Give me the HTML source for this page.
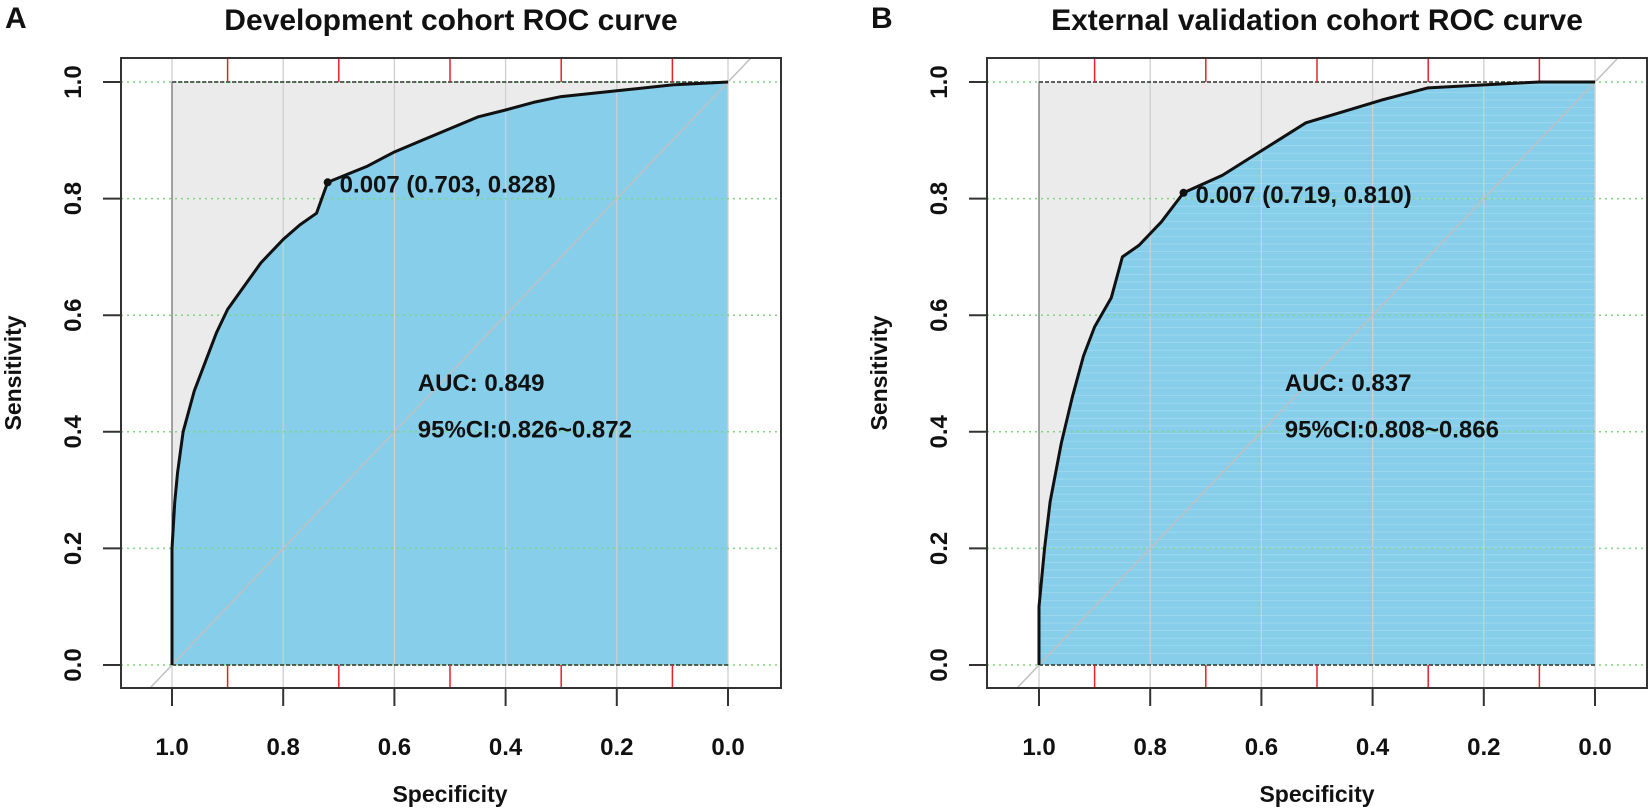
<!DOCTYPE html>
<html><head><meta charset="utf-8"><style>
body{margin:0;background:#fff}
svg{display:block;font-family:"Liberation Sans",Arial,sans-serif;font-weight:bold}
</style></head><body>
<svg id="chart" width="1650" height="809" viewBox="0 0 1650 809"></svg>
<script>
const xTicks=[1.0,0.8,0.6,0.4,0.2,0.0];
const xTickLabels=["1.0","0.8","0.6","0.4","0.2","0.0"];
const yTicks=[0.0,0.2,0.4,0.6,0.8,1.0];
const yTickLabels=["0.0","0.2","0.4","0.6","0.8","1.0"];
const redTicks=[0.9,0.7,0.5,0.3,0.1];
const specA=[1.0,1.0,0.995,0.99,0.98,0.96,0.94,0.92,0.9,0.87,0.84,0.8,0.77,0.74,0.72,0.65,0.6,0.55,0.5,0.45,0.4,0.35,0.3,0.2,0.1,0.0];
const sensA=[0.0,0.2,0.28,0.33,0.4,0.47,0.52,0.57,0.61,0.65,0.69,0.73,0.755,0.775,0.828,0.855,0.88,0.9,0.92,0.94,0.952,0.965,0.975,0.985,0.995,1.0];
const specB=[1.0,1.0,0.99,0.98,0.96,0.94,0.92,0.9,0.87,0.85,0.82,0.78,0.74,0.67,0.62,0.57,0.52,0.45,0.38,0.3,0.2,0.1,0.0];
const sensB=[0.0,0.1,0.2,0.28,0.38,0.46,0.53,0.58,0.63,0.7,0.72,0.76,0.81,0.84,0.87,0.9,0.93,0.95,0.97,0.99,0.995,1.0,1.0];
const panels=[
 {id:"a",letter:"A",title:"Development cohort ROC curve",spec:specA,sens:sensA,cut:0.72,cutS:0.828,cutLbl:"0.007 (0.703, 0.828)",auc:"AUC: 0.849",ci:"95%CI:0.826~0.872",boxL:121,boxR:781,x1:172,x0:728},
 {id:"b",letter:"B",title:"External validation cohort ROC curve",spec:specB,sens:sensB,cut:0.74,cutS:0.81,cutLbl:"0.007 (0.719, 0.810)",auc:"AUC: 0.837",ci:"95%CI:0.808~0.866",boxL:987,boxR:1647,x1:1039,x0:1595}
];
const NS="http://www.w3.org/2000/svg";
const svg=document.getElementById('chart');
function mk(tag,attrs,parent,text){const e=document.createElementNS(NS,tag);for(const k in attrs)e.setAttribute(k,attrs[k]);if(text!==undefined)e.textContent=text;(parent||svg).appendChild(e);return e;}
const defs=mk('defs',{});
const boxT=58,boxB=688,y1=82,y0=665;
panels.forEach(p=>{
 const X=v=>p.x0+(p.x1-p.x0)*v;
 const Y=v=>y0+(y1-y0)*v;
 let pts=p.spec.map((s,i)=>X(s)+','+Y(p.sens[i])).join(' ');
 const cpBox=mk('clipPath',{id:'box-'+p.id},defs);
 mk('rect',{x:p.boxL,y:boxT,width:p.boxR-p.boxL,height:boxB-boxT},cpBox);
 const cpArea=mk('clipPath',{id:'area-'+p.id},defs);
 mk('polygon',{points:pts+' '+X(0)+','+Y(0)},cpArea);
 const g=mk('g',{});
 
 
 mk('rect',{x:X(1),y:Y(1),width:X(0)-X(1),height:Y(0)-Y(1),fill:'#ebebeb'},g);
 const area=mk('polygon',{points:pts+' '+X(0)+','+Y(0),fill:'#87ceeb'},g);
 
 
 if(p.id==='b'){const sg=mk('g',{'clip-path':'url(#area-b)'},g);for(let v=0.02;v<1;v+=0.013){mk('line',{x1:X(1),x2:X(0),y1:Y(v),y2:Y(v),stroke:'#a9dcf0','stroke-width':0.6},sg);}}
 xTicks.forEach(t=>mk('line',{x1:X(t),x2:X(t),y1:boxT,y2:boxB,stroke:'#cfcfcf','stroke-width':1.3},g));
 yTicks.forEach(t=>mk('line',{x1:p.boxL,x2:p.boxR,y1:Y(t),y2:Y(t),stroke:'#7fd67f','stroke-width':1.5,'stroke-dasharray':'2,4'},g));
 mk('line',{x1:X(1),x2:X(0),y1:Y(1),y2:Y(1),stroke:'#333','stroke-width':1.5,'stroke-dasharray':'4,2'},g);
 mk('line',{x1:X(1),x2:X(0),y1:Y(0),y2:Y(0),stroke:'#333','stroke-width':1.5,'stroke-dasharray':'4,2'},g);
 redTicks.forEach(t=>{mk('line',{x1:X(t),x2:X(t),y1:boxT,y2:Y(1),stroke:'#e8202a','stroke-width':1.5},g);mk('line',{x1:X(t),x2:X(t),y1:Y(0),y2:boxB,stroke:'#e8202a','stroke-width':1.5},g);});
 mk('line',{x1:X(1.2),y1:Y(-0.2),x2:X(-0.2),y2:Y(1.2),stroke:'#c0c0c0','stroke-width':1.5,'clip-path':'url(#box-'+p.id+')'},g);
 mk('line',{x1:X(1),x2:X(1),y1:Y(0),y2:Y(1),stroke:'#555','stroke-width':1},g);
 const curve=mk('polyline',{points:pts,fill:'none',stroke:'#111','stroke-width':3,'stroke-linejoin':'round'},g);
 
 
 mk('circle',{cx:X(p.cut),cy:Y(p.cutS),r:4,fill:'#111'},g);
 const cl=mk('text',{x:X(p.cut)+12,y:Y(p.cutS)+10,'font-size':24,fill:'#111'},g,p.cutLbl);
 
 
 const a1=mk('text',{x:X(0.558),y:Y(0.47),'font-size':24,fill:'#111'},g,p.auc);
 
 
 const a2=mk('text',{x:X(0.558),y:Y(0.39),'font-size':24,fill:'#111'},g,p.ci);
 
 
 mk('rect',{x:p.boxL,y:boxT,width:p.boxR-p.boxL,height:boxB-boxT,fill:'none',stroke:'#333','stroke-width':2},g);
 xTicks.forEach((t,i)=>{mk('line',{x1:X(t),x2:X(t),y1:boxB,y2:boxB+18,stroke:'#333','stroke-width':2},g);
  const tl=mk('text',{x:X(t),y:755,'font-size':24,'text-anchor':'middle',fill:'#111'},g,xTickLabels[i]);
  
  });
 yTicks.forEach((t,i)=>{mk('line',{x1:p.boxL-18,x2:p.boxL,y1:Y(t),y2:Y(t),stroke:'#333','stroke-width':2},g);
  const tl=mk('text',{x:0,y:0,'font-size':24,'text-anchor':'middle',fill:'#111',transform:`translate(${p.boxL-40},${Y(t)}) rotate(-90)`},g,yTickLabels[i]);
  
  });
 const xt=mk('text',{x:(X(1)+X(0))/2,y:802,'font-size':23,'text-anchor':'middle',fill:'#111'},g,'Specificity');
 
 
 const yt=mk('text',{x:0,y:0,'font-size':23,'text-anchor':'middle',fill:'#111',transform:`translate(${p.boxL-100},${(boxT+boxB)/2}) rotate(-90)`},g,'Sensitivity');
 
 
 const tt=mk('text',{x:(p.boxL+p.boxR)/2,y:30,'font-size':30,'text-anchor':'middle',fill:'#111'},g,p.title);
 
 
 const pl=mk('text',{x:p.boxL-116,y:28,'font-size':30,fill:'#111'},g,p.letter);
 
 
});
</script>
</body></html>
